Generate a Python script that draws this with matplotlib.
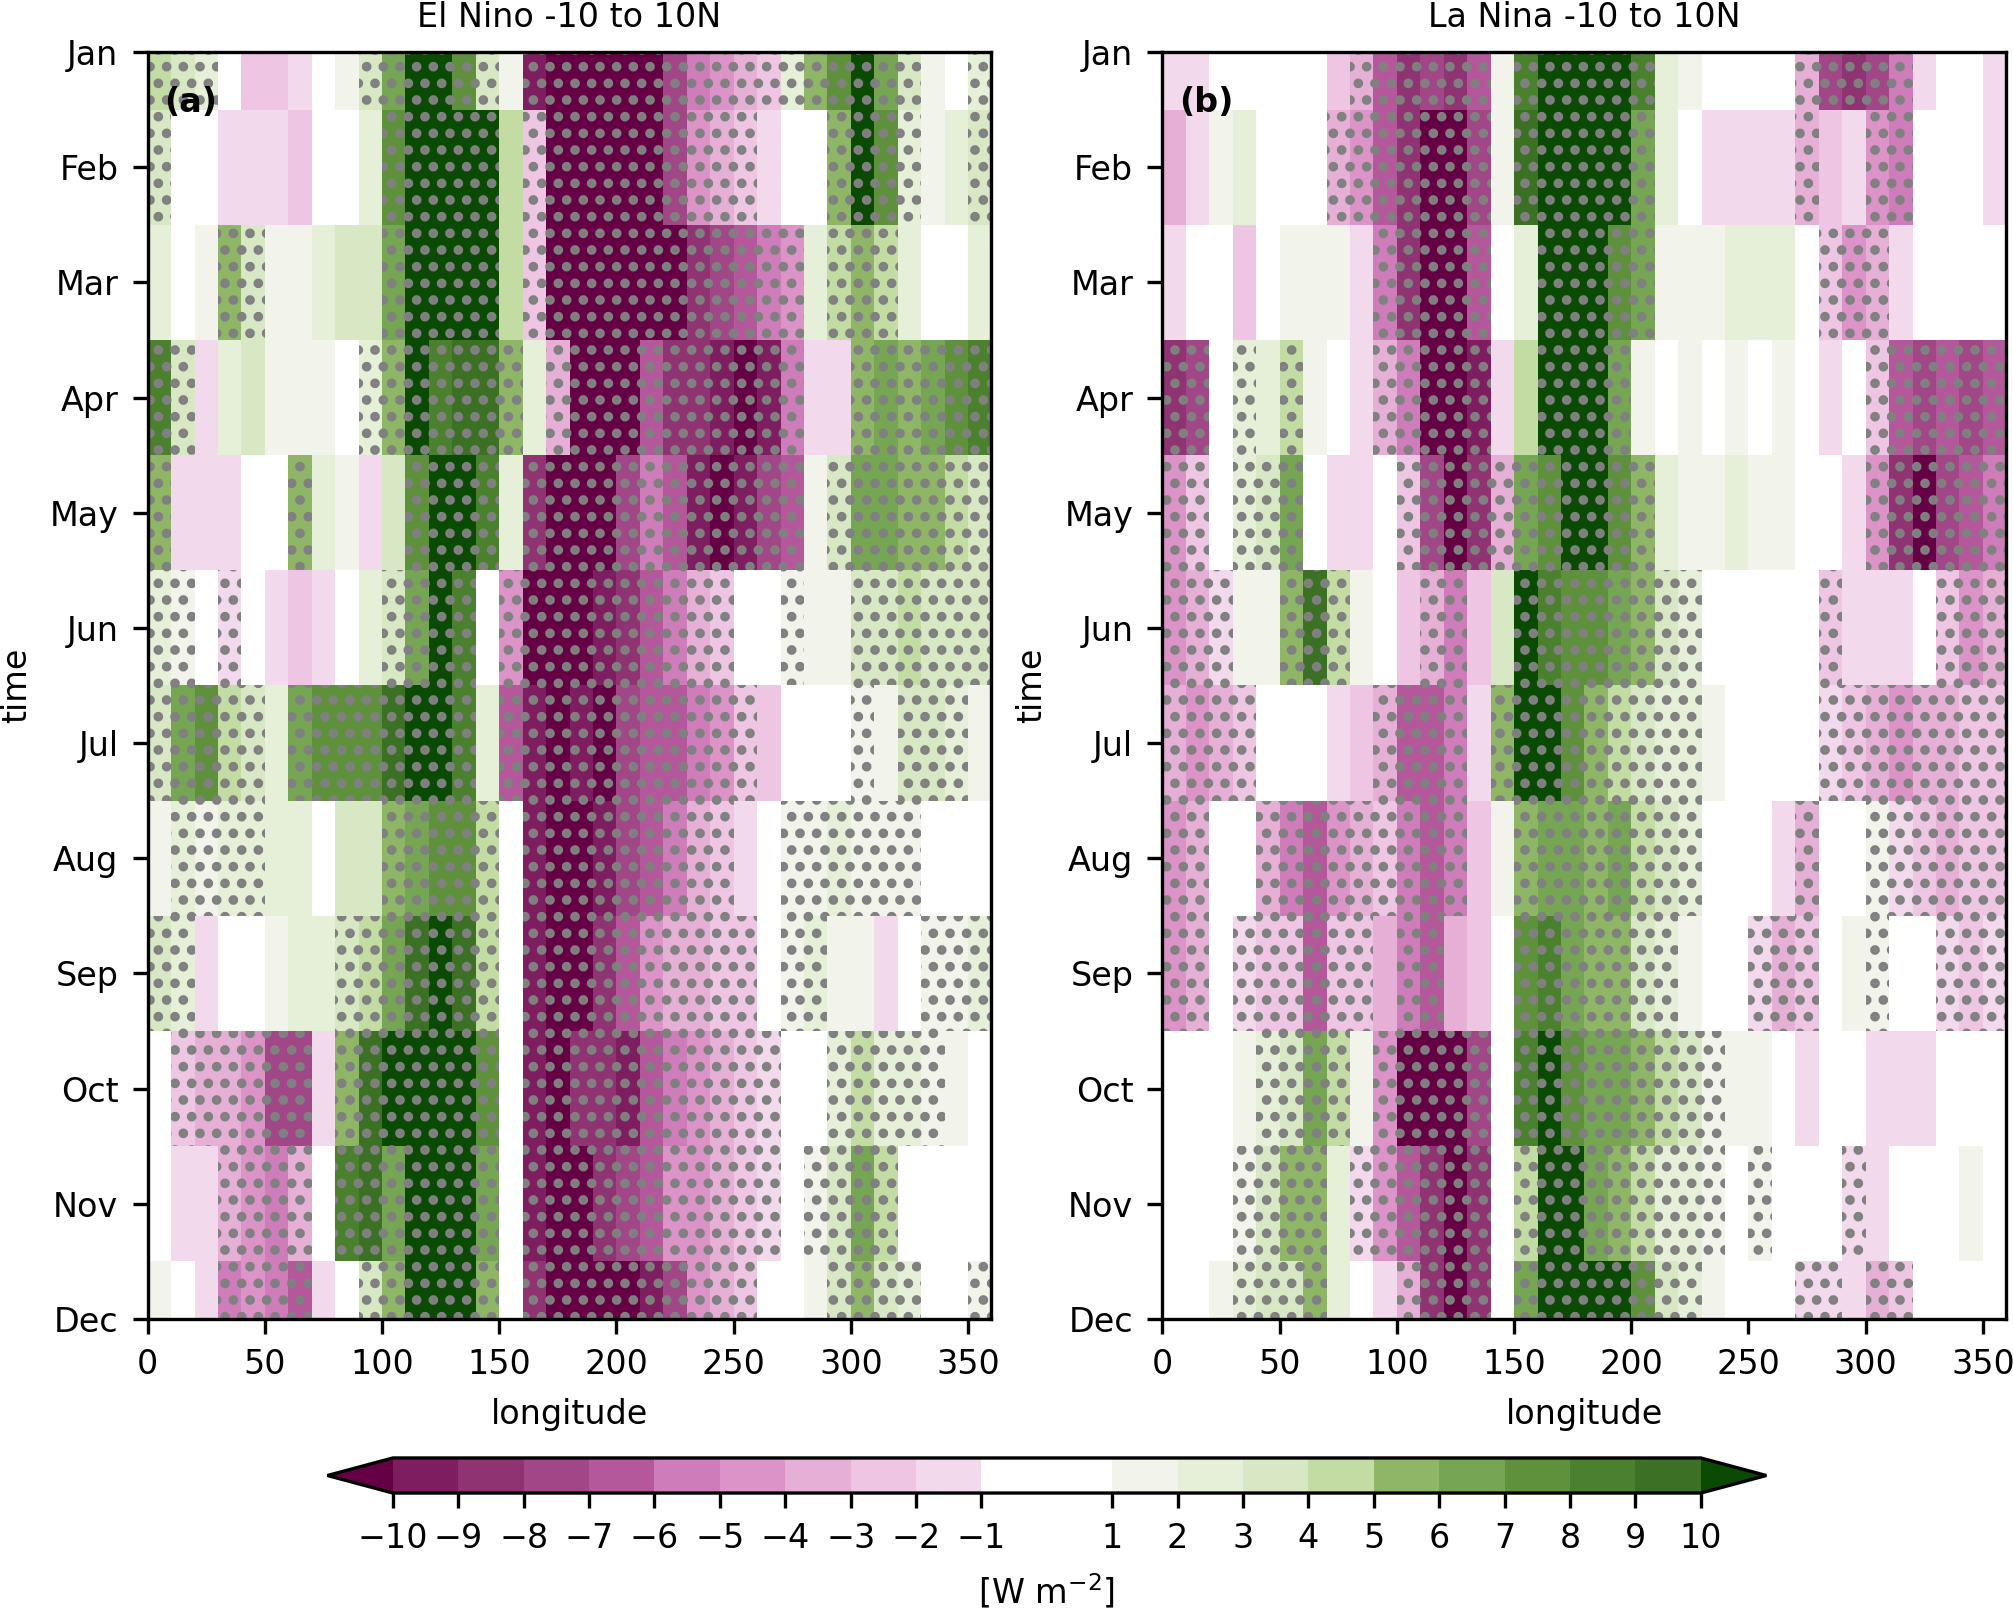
"""Hovmoller composites (-10 to 10N) for El Nino / La Nina with
significance stippling and a shared discrete colorbar.
"""
import numpy as np
import matplotlib
matplotlib.use("Agg")
import matplotlib.pyplot as plt
from matplotlib.colors import ListedColormap, BoundaryNorm
from matplotlib.patches import Rectangle

MONTHS = ["Jan", "Feb", "Mar", "Apr", "May", "Jun",
          "Jul", "Aug", "Sep", "Oct", "Nov", "Dec"]
LON_EDGES = np.arange(0, 361, 10)          # 36 bins of 10 degrees
LEVELS = [-10, -9, -8, -7, -6, -5, -4, -3, -2, -1,
          1, 2, 3, 4, 5, 6, 7, 8, 9, 10]

# anomalies, one row per month, one value per 10-degree longitude bin
EL_NINO = [
    [4, 3, 2, 0, -3, -3, -2, 0, 1, 3, 6, 11, 11, 7, 3, 1, -10, -11, -11, -11, -11, -11, -8, -6, -5, -4, -3, 2, 5, 7, 10, 6, 3, 1, 0, 2],
    [3, 0, 0, -2, -2, -2, -3, 0, 0, 2, 7, 11, 11, 11, 11, 4, -3, -11, -11, -11, -11, -11, -8, -5, -4, -3, -2, 0, 0, 5, 11, 7, 2, 1, 2, 3],
    [2, 0, 1, 5, 3, 1, 1, 2, 3, 3, 6, 11, 11, 11, 10, 4, -3, -11, -11, -11, -11, -11, -11, -9, -8, -7, -6, -5, 2, 4, 5, 4, 2, 0, 0, 2],
    [8, 3, -2, 2, 3, 1, 1, 1, 0, 2, 5, 11, 8, 9, 9, 5, 2, -4, -11, -11, -11, -7, -9, -9, -10, -11, -10, -6, -2, -2, 5, 6, 5, 6, 7, 8],
    [5, -2, -2, -2, 0, 0, 5, 2, 1, -2, 3, 7, 11, 11, 8, 2, -9, -11, -11, -11, -8, -6, -7, -10, -11, -10, -8, -7, 1, 3, 6, 6, 5, 5, 4, 3],
    [2, 1, 0, -2, 0, -2, -3, -2, 0, 2, 3, 6, 11, 8, 0, -5, -11, -11, -11, -10, -9, -7, -6, -4, -3, 0, 0, 1, 1, 1, 3, 3, 4, 3, 3, 3],
    [3, 6, 7, 4, 3, 2, 6, 7, 7, 7, 9, 11, 11, 8, 2, -7, -10, -11, -10, -11, -8, -7, -7, -6, -5, -3, -3, 0, 0, 0, 1, 1, 3, 3, 2, 1],
    [1, 2, 1, 2, 2, 2, 2, 0, 3, 3, 5, 6, 7, 7, 4, -1, -10, -11, -11, -10, -8, -7, -6, -4, -3, -2, 0, 1, 1, 2, 1, 1, 1, 0, 0, 0],
    [3, 2, -2, 0, 0, 1, 2, 2, 3, 4, 6, 9, 11, 9, 4, 0, -10, -11, -11, -9, -7, -5, -4, -4, -3, -3, 0, 1, 2, 1, 1, -2, 0, 1, 1, 2],
    [0, -3, -4, -4, -5, -8, -8, -2, 5, 9, 11, 11, 11, 11, 7, -1, -10, -11, -9, -9, -10, -7, -6, -5, -4, -3, -2, -1, 0, 2, 4, 2, 2, 1, 1, 0],
    [0, -2, -2, -4, -5, -6, -4, -1, 8, 9, 6, 10, 11, 11, 6, 0, -10, -11, -11, -9, -8, -7, -5, -5, -4, -3, -2, 0, 1, 3, 6, 4, 0, 0, 0, 0],
    [1, 0, -2, -6, -5, -6, -7, -2, 0, 3, 5, 11, 11, 10, 5, 0, -9, -11, -11, -11, -11, -10, -8, -5, -4, -3, 0, 0, 1, 3, 5, 3, 2, 0, 0, 1],
]
# 1 = significant (stippled)
EL_NINO_SIG = [
    "111 000000 111111 0 11111111111 111111 00 1",
    "1 000000000 11111 0 1111111111 000 1111 00 1",
    "000 11 00000 11111 0 111111111111 0 111 0000",
    "11 0000000 1111111 0 11111111111 00 111111",
    "1 00000 1 0000 1111 0 111111111111 0 1111111",
    "11 0 1 000000 1111 0 1111111111 00 1 00 111111",
    "11111 0 11111111 0 11111111111 0000 1 0 111 0",
    "0 1111 00000 11111 0 111111111 00 111111 000",
    "11 000000 1111111 0 1111111111 0 11 0000 111",
    "0 111111 0 1111111 0 11111111111 00 11111 00",
    "000 1111 0 1111111 0 11111111111 0 1111 0000",
    "000 1111 00 111111 0 1111111111 000 1111 00 1",
]

LA_NINA = [
    [-2, -2, 0, 0, 0, 0, -1, -3, -4, -7, -9, -8, -9, -7, 1, 8, 11, 11, 11, 11, 8, 2, 1, 0, 0, 0, -1, -4, -8, -9, -8, -6, -2, 0, 0, -2],
    [-4, -2, 1, 2, 0, 0, -1, -4, -5, -7, -9, -11, -11, -8, 1, 9, 11, 11, 11, 11, 6, 2, -1, -2, -2, -2, -2, -4, -3, -2, -5, -6, 0, 0, 0, -2],
    [-2, -1, 0, -3, 0, 1, 1, 1, -2, -6, -9, -11, -11, -7, -1, 2, 11, 11, 11, 7, 6, 1, 1, 1, 2, 2, 2, 0, -3, -5, -4, -2, 0, 0, 0, -1],
    [-9, -8, 0, 2, 2, 4, 1, -1, -2, -4, -6, -11, -11, -10, -2, 4, 11, 11, 10, 6, 1, 0, 1, 0, 1, 0, 1, -1, -2, 0, -3, -7, -8, -7, -8, -7],
    [-5, -3, 0, 2, 3, 6, -1, -2, -2, 0, -3, -8, -11, -9, -4, 6, 7, 10, 11, 7, 5, 2, 1, 1, 2, 1, 1, 0, -1, -2, -5, -9, -11, -8, -7, -6],
    [-5, -4, -2, 1, 1, 5, 9, 4, 1, -1, -3, -4, -6, -3, 3, 11, 8, 7, 7, 6, 5, 3, 2, 0, 0, 0, 0, -1, -3, -2, -2, -2, 0, -3, -5, -4],
    [-4, -5, -4, -3, -1, 0, 0, -2, -3, -4, -7, -7, -6, -2, 5, 11, 11, 7, 5, 4, 3, 2, 2, 1, 0, 0, 0, -1, -2, -3, -4, -5, -4, -4, -3, -3],
    [-5, -4, -1, 0, -4, -6, -7, -5, -4, -3, -6, -7, -6, -3, 1, 5, 6, 6, 5, 6, 4, 3, 2, 0, 0, -1, -2, -4, -1, 0, 1, -2, -3, -4, -3, -3],
    [-5, -4, 0, -2, -3, -3, -7, -3, -3, -4, -6, -7, -4, -3, 0, 7, 8, 6, 5, 5, 3, 2, 1, 0, -1, -2, -4, -3, 0, 1, 1, 0, -1, -2, -3, -2],
    [0, 0, 0, 1, 2, 3, 6, 4, 1, -5, -11, -11, -11, -8, 0, 8, 11, 7, 6, 6, 5, 4, 3, 1, 1, 1, 0, -2, -1, 0, -2, -2, -2, 0, 0, 0],
    [0, 0, 0, 1, 3, 5, 5, 2, -2, -5, -7, -9, -11, -9, -1, 4, 10, 11, 6, 5, 4, 2, 2, 1, 0, 1, 0, 0, -1, -2, -2, -1, 0, 0, 1, 0],
    [-1, 0, 1, 2, 3, 3, 5, 2, 0, -2, -4, -9, -11, -9, 0, 6, 11, 11, 11, 11, 7, 3, 2, 1, 0, 0, 0, -2, -2, -2, -4, -3, -1, 0, 0, 0],
]
LA_NINA_SIG = [
    "00000000 111111 0 111111 000000 11111 0000",
    "0000000 1111111 0 111111 000000 1 00 11 0000",
    "000000000 11111 00 11111 0000000 111 00000",
    "11 0 1 0 1 000 11111 00 1111 0000000000 111111",
    "11 0 111 0000 11111111111 000000000 111111",
    "111 00 111 000 11 00 11111111 00000 1 0000 111",
    "1111 00000 1111 0 111111111 00000 11111111",
    "11 00 111111111 00 11111111 0000 1 00 111111",
    "11 0 111111 0 11 000 1111111 000 111 00 1 00 111",
    "0000 1111 0 11111 0 111111111 000000000000",
    "000 1111 0 111111 0 111111111 0 1 000 1 000000",
    "000 1111 000 1111 0 11111111 0000 11 0 11 0000",
]

# discrete purple-white-green palette
BIN_COLORS = ["#7e1e61", "#8f3373", "#a14686", "#b4589b", "#cf7dba",
              "#db93c8", "#e6afd6", "#eec6e3", "#f3d9ec", "#ffffff",
              "#f2f3eb", "#e6f0d8", "#d8e8c4", "#c3dca3", "#8fb567",
              "#76a553", "#5f913d", "#4b802e", "#3c7125"]
UNDER, OVER = "#650044", "#0b4a02"

plt.rcParams["font.size"] = 8
plt.rcParams["hatch.color"] = "gray"
plt.rcParams["hatch.linewidth"] = 1.5


def _runs(mask):
    """Start/stop indices of consecutive '1's in a 0/1 string."""
    out, start = [], None
    for i, c in enumerate(mask + "0"):
        if c == "1" and start is None:
            start = i
        elif c != "1" and start is not None:
            out.append((start, i))
            start = None
    return out


def hovmoller(ax, values, sig, cmap, norm, title, tag):
    t_edges = np.arange(len(MONTHS) + 1) - 0.5
    mesh = ax.pcolormesh(LON_EDGES, t_edges, np.asarray(values, dtype=float),
                         cmap=cmap, norm=norm)
    for m, row in enumerate(sig):
        for i0, i1 in _runs(row.replace(" ", "")):
            ax.add_patch(Rectangle((LON_EDGES[i0], m - 0.5),
                                   LON_EDGES[i1] - LON_EDGES[i0], 1,
                                   fill=False, hatch="...", edgecolor="gray",
                                   lw=0))
    ax.set_xlim(0, 360)
    ax.set_ylim(len(MONTHS) - 1, 0)
    ax.set_yticks(range(len(MONTHS)))
    ax.set_yticklabels(MONTHS)
    ax.set_xticks(np.arange(0, 351, 50))
    ax.set_xlabel("longitude")
    ax.set_ylabel("time")
    ax.set_title(title, fontsize=8)
    ax.text(0.02, 0.96, tag, transform=ax.transAxes, fontweight="bold",
            ha="left", va="center")
    return mesh


cmap = ListedColormap(BIN_COLORS).with_extremes(under=UNDER, over=OVER)
norm = BoundaryNorm(LEVELS, cmap.N)

fig = plt.figure(figsize=(2014 / 300, 1608 / 300), dpi=300)
ax_a = fig.add_axes([0.0733, 0.1797, 0.419, 0.788])
ax_b = fig.add_axes([0.5772, 0.1797, 0.419, 0.788])
mesh = hovmoller(ax_a, EL_NINO, EL_NINO_SIG, cmap, norm,
                 "El Nino -10 to 10N", "(a)")
hovmoller(ax_b, LA_NINA, LA_NINA_SIG, cmap, norm,
          "La Nina -10 to 10N", "(b)")

cax = fig.add_axes([0.1626, 0.0715, 0.7144, 0.0218])
cb = fig.colorbar(mesh, cax=cax, orientation="horizontal", extend="both",
                  spacing="proportional", ticks=LEVELS)
cb.set_label("[W m$^{-2}$]")

fig.savefig("out.png", dpi=300)
